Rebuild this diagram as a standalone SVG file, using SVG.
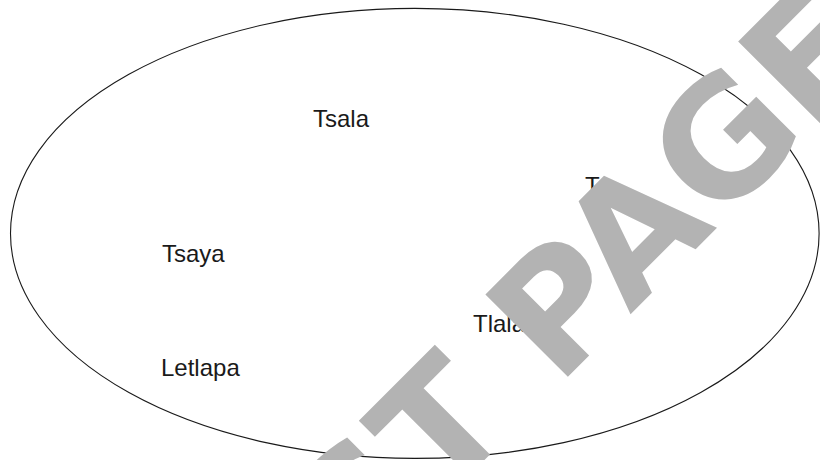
<svg xmlns="http://www.w3.org/2000/svg" width="820" height="460" viewBox="0 0 820 460">
  <style>
    .word { font-family: "Liberation Sans", Arial, sans-serif; font-size: 24px; fill: #1a1a1a; }
    .set { fill: #ffffff; stroke: #1a1a1a; stroke-width: 1.1; }
    .mark { font-family: "DejaVu Sans", sans-serif; font-weight: bold; font-size: 160px; fill: #b3b3b3; }
  </style>
  <rect x="0" y="0" width="820" height="460" fill="#ffffff"/>
  <g id="set">
    <ellipse class="set" cx="414.8" cy="233.4" rx="404.3" ry="225"/>
  </g>
  <g id="word-tsala"><text class="word" x="313" y="127">Tsala</text></g>
  <g id="word-ts"><text class="word" x="585" y="194">Ts</text></g>
  <g id="word-tsaya"><text class="word" x="162" y="262">Tsaya</text></g>
  <g id="word-tlala"><text class="word" x="473" y="332">Tlala</text></g>
  <g id="word-letlapa"><text class="word" x="161" y="376">Letlapa</text></g>
  <g id="watermark">
    <text class="mark" transform="translate(204.9,739.7) rotate(-45)" x="0" y="0">TEST PAGE</text>
  </g>
</svg>
